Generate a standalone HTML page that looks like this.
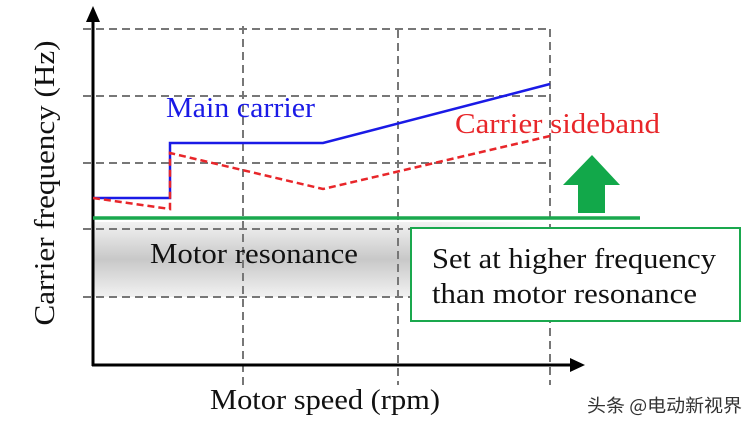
<!DOCTYPE html>
<html><head><meta charset="utf-8"><style>
body{margin:0;background:#fff;width:755px;height:426px;overflow:hidden}
svg{display:block}
.t{font-family:"Liberation Serif",serif}
</style></head><body>
<svg width="755" height="426" viewBox="0 0 755 426">
<defs>
<linearGradient id="g" x1="0" y1="0" x2="0" y2="1">
<stop offset="0" stop-color="#f2f2f2"/><stop offset="0.5" stop-color="#c8c8c8"/><stop offset="1" stop-color="#f2f2f2"/>
</linearGradient>
<linearGradient id="gh" x1="0" y1="0" x2="1" y2="0">
<stop offset="0.75" stop-color="#fff" stop-opacity="0"/><stop offset="1" stop-color="#fff" stop-opacity="1"/>
</linearGradient>
</defs>
<rect x="93" y="222" width="460" height="75" fill="url(#g)"/>
<rect x="93" y="222" width="460" height="75" fill="url(#gh)"/>
<g stroke="#777" stroke-width="2" stroke-dasharray="8,5" fill="none">
<line x1="83" y1="29" x2="550" y2="29"/>
<line x1="83" y1="96" x2="550" y2="96"/>
<line x1="83" y1="163" x2="550" y2="163"/>
<line x1="83" y1="229" x2="550" y2="229"/>
<line x1="83" y1="297" x2="550" y2="297"/>
<line x1="243" y1="26" x2="243" y2="385"/>
<line x1="398" y1="30" x2="398" y2="385"/>
<line x1="550" y1="29" x2="550" y2="385"/>
</g>
<line x1="93" y1="22" x2="93" y2="366" stroke="#000" stroke-width="3"/>
<polygon points="93,6 86,22 100,22" fill="#000"/>
<line x1="92" y1="365" x2="572" y2="365" stroke="#000" stroke-width="3"/>
<polygon points="585,365 570,358 570,372" fill="#000"/>
<polyline points="93,198 170,198 170,143 323,143 550,84" fill="none" stroke="#1a1ae6" stroke-width="2.5"/>
<polyline points="93,198 170,209 170,153 323,189 550,136" fill="none" stroke="#e8262a" stroke-width="2.5" stroke-dasharray="7,4"/>
<line x1="93" y1="218" x2="640" y2="218" stroke="#1aa84e" stroke-width="3.5"/>
<polygon points="592,155 620,185 605,185 605,213 578,213 578,185 563,185" fill="#12a84a"/>
<rect x="411" y="228" width="329" height="93" fill="#fff" stroke="#1aa84e" stroke-width="2"/>
<text x="166" y="117" class="t" font-size="28" fill="#1a1ae6" textLength="149" lengthAdjust="spacingAndGlyphs">Main carrier</text>
<text x="455" y="133" class="t" font-size="28" fill="#e8262a" textLength="205" lengthAdjust="spacingAndGlyphs">Carrier sideband</text>
<text x="150" y="263" class="t" font-size="28" fill="#111" textLength="208" lengthAdjust="spacingAndGlyphs">Motor resonance</text>
<text x="432" y="268" class="t" font-size="28" fill="#111" textLength="284" lengthAdjust="spacingAndGlyphs">Set at higher frequency</text>
<text x="432" y="303" class="t" font-size="28" fill="#111" textLength="265" lengthAdjust="spacingAndGlyphs">than motor resonance</text>
<text x="210" y="409" class="t" font-size="28" fill="#111" textLength="230" lengthAdjust="spacingAndGlyphs">Motor speed (rpm)</text>
<text transform="translate(54,183) rotate(-90)" text-anchor="middle" class="t" font-size="28" fill="#111" textLength="285" lengthAdjust="spacingAndGlyphs">Carrier frequency (Hz)</text>
<text x="587" y="412" font-family="'Noto Sans CJK SC',sans-serif" font-size="18" fill="#333" textLength="155" lengthAdjust="spacingAndGlyphs">头条 @电动新视界</text>
</svg>
</body></html>
